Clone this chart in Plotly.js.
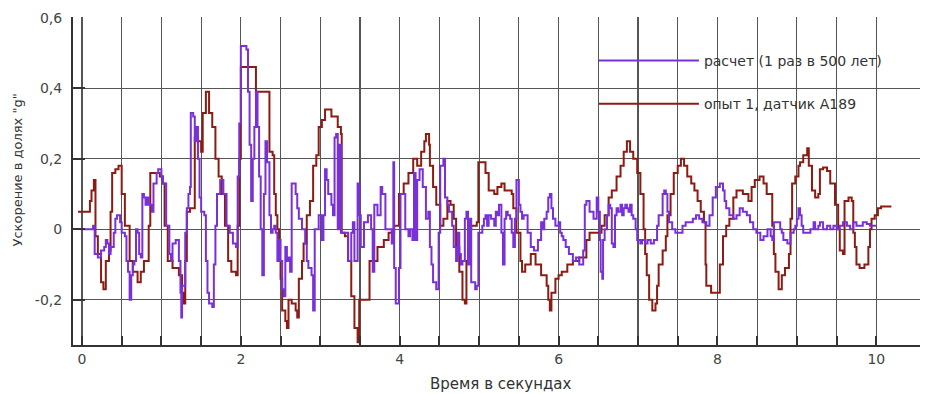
<!DOCTYPE html>
<html>
<head>
<meta charset="utf-8">
<script src="https://cdn.plot.ly/plotly-3.0.1.min.js"></script>
<style>html,body{margin:0;padding:0;background:#fff;}#chart{width:925px;height:394px;}</style>
</head>
<body>
<div id="chart"></div>
<script>
// ---- Data ----
const seriesNames = ["расчет (1 раз в 500 лет)", "опыт 1, датчик А189"];

// расчет (calculation)
const calcT = [-0.02,0.12,0.14,0.16,0.20,0.24,0.28,0.30,0.32,0.34,0.36,0.40,0.42,0.44,0.48,0.50,0.54,0.56,0.58,0.60,0.62,0.64,0.66,0.68,0.70,0.72,0.74,0.76,0.78,0.80,0.82,0.84,0.88,0.90,0.94,0.96,1.00,1.02,1.06,1.10,1.12,1.14,1.18,1.22,1.24,1.25,1.26,1.30,1.32,1.34,1.36,1.37,1.40,1.42,1.44,1.46,1.48,1.50,1.54,1.56,1.58,1.60,1.64,1.66,1.68,1.70,1.74,1.78,1.82,1.86,1.90,1.94,1.96,1.98,2.00,2.07,2.09,2.11,2.13,2.15,2.17,2.19,2.21,2.23,2.25,2.27,2.29,2.31,2.33,2.36,2.38,2.40,2.42,2.44,2.46,2.48,2.50,2.52,2.54,2.56,2.58,2.60,2.62,2.64,2.66,2.69,2.71,2.73,2.77,2.81,2.83,2.85,2.89,2.91,2.93,2.98,3.02,3.04,3.06,3.08,3.10,3.14,3.16,3.18,3.20,3.22,3.24,3.26,3.31,3.35,3.39,3.41,3.43,3.47,3.49,3.51,3.55,3.60,3.64,3.66,3.68,3.72,3.76,3.78,3.82,3.86,3.90,3.92,3.93,3.95,3.97,3.99,4.01,4.05,4.07,4.11,4.13,4.16,4.18,4.20,4.22,4.25,4.29,4.33,4.36,4.38,4.40,4.42,4.46,4.49,4.51,4.55,4.57,4.60,4.62,4.66,4.68,4.71,4.73,4.75,4.77,4.79,4.82,4.84,4.86,4.88,4.90,4.95,4.97,4.99,5.04,5.06,5.08,5.10,5.12,5.15,5.19,5.21,5.23,5.25,5.28,5.30,5.32,5.34,5.36,5.39,5.41,5.43,5.45,5.47,5.50,5.52,5.54,5.56,5.61,5.65,5.69,5.74,5.78,5.80,5.82,5.85,5.87,5.89,5.91,5.93,5.96,6.00,6.02,6.04,6.06,6.09,6.13,6.18,6.22,6.26,6.31,6.33,6.35,6.39,6.44,6.48,6.50,6.52,6.53,6.55,6.56,6.58,6.61,6.63,6.65,6.67,6.69,6.71,6.73,6.75,6.78,6.80,6.82,6.84,6.86,6.88,6.90,6.92,6.94,6.97,6.99,7.03,7.05,7.09,7.12,7.16,7.20,7.24,7.26,7.31,7.33,7.35,7.37,7.39,7.43,7.47,7.52,7.56,7.60,7.64,7.69,7.73,7.77,7.81,7.86,7.90,7.94,7.98,8.03,8.07,8.09,8.11,8.15,8.20,8.24,8.28,8.32,8.37,8.41,8.45,8.49,8.54,8.58,8.63,8.67,8.69,8.71,8.75,8.79,8.81,8.83,8.88,8.92,8.96,8.98,9.00,9.02,9.04,9.06,9.08,9.13,9.17,9.21,9.23,9.27,9.29,9.33,9.38,9.42,9.46,9.50,9.54,9.58,9.63,9.67,9.71,9.75,9.79,9.83,9.88,9.92,9.96,10.00];
const calcG = [0.00,0.00,0.01,-0.07,-0.08,-0.06,-0.05,-0.03,-0.04,-0.07,-0.05,-0.01,0.03,0.04,0.02,-0.01,-0.02,-0.09,-0.12,-0.20,-0.13,-0.10,-0.09,0.00,-0.01,-0.07,-0.08,0.10,0.09,0.07,0.09,0.07,0.05,0.13,0.16,0.17,0.15,0.13,0.01,-0.07,-0.09,-0.04,-0.03,-0.09,-0.18,-0.25,-0.16,-0.01,0.06,0.10,0.12,0.33,0.32,0.25,0.29,0.20,0.09,0.05,0.04,-0.09,-0.18,-0.21,-0.22,-0.10,0.01,0.10,0.14,0.10,0.01,-0.01,-0.04,-0.05,0.15,0.30,0.52,0.51,0.39,0.24,0.08,0.20,0.29,0.39,0.29,0.15,0.00,-0.13,0.10,0.25,0.19,0.04,-0.01,0.00,0.01,-0.01,-0.09,-0.03,-0.09,-0.17,-0.19,-0.05,-0.09,-0.08,-0.12,0.13,0.13,0.10,0.06,0.03,0.00,-0.04,-0.09,-0.11,-0.13,-0.23,0.00,0.04,-0.03,0.04,0.17,0.14,0.10,0.07,0.04,0.26,0.27,0.00,0.24,-0.01,-0.01,-0.09,-0.01,0.02,-0.09,0.13,0.04,-0.05,0.02,0.04,0.00,-0.12,0.07,0.04,0.12,0.10,0.00,0.00,-0.04,0.19,-0.11,-0.21,-0.21,-0.11,0.10,0.10,0.00,-0.02,0.00,-0.03,0.16,-0.03,0.14,0.17,0.12,0.03,0.05,-0.05,-0.10,-0.15,-0.17,-0.01,0.18,0.20,0.09,0.07,0.05,0.01,-0.05,-0.09,-0.01,-0.07,-0.10,-0.09,0.03,0.05,-0.10,0.03,-0.15,-0.17,-0.16,-0.01,0.01,0.03,0.04,0.01,0.04,0.03,0.01,0.05,0.04,0.07,-0.01,-0.10,0.03,0.05,0.04,0.03,-0.01,-0.05,0.03,0.14,0.07,0.05,0.03,0.04,-0.01,-0.05,-0.06,-0.03,0.02,0.00,0.03,0.05,0.09,0.10,0.06,0.03,0.01,0.02,-0.01,-0.02,-0.03,-0.05,-0.07,-0.09,-0.08,-0.10,-0.06,0.07,0.08,0.05,0.03,0.09,0.05,-0.03,-0.12,-0.14,-0.03,0.00,0.04,0.07,0.06,-0.04,-0.05,0.04,0.06,0.05,0.07,0.04,0.06,0.07,0.06,0.05,0.07,0.04,0.03,0.00,-0.03,-0.04,-0.03,-0.04,-0.03,-0.04,-0.03,0.01,0.04,0.10,0.11,0.10,0.05,0.02,0.00,-0.01,-0.01,0.01,0.02,0.02,0.03,0.04,0.03,0.02,0.01,0.04,0.09,0.12,0.13,0.11,0.08,0.06,0.04,0.03,0.04,0.06,0.05,0.04,0.02,0.00,-0.01,-0.03,-0.02,0.00,-0.02,-0.03,0.02,0.02,0.00,-0.01,-0.03,-0.04,-0.01,0.00,0.01,0.03,0.06,0.04,0.01,-0.01,-0.01,0.00,0.02,0.00,0.01,0.02,0.00,0.01,0.00,0.01,0.00,0.01,0.02,0.01,0.00,0.02,0.01,0.01,0.02,0.015,0.01,0.01,0.01];

// опыт 1, датчик А189 (experiment)
const expT = [-0.05,0.10,0.12,0.15,0.17,0.20,0.24,0.27,0.30,0.34,0.36,0.38,0.42,0.46,0.50,0.54,0.60,0.64,0.70,0.74,0.78,0.84,0.86,0.92,0.98,1.02,1.04,1.08,1.14,1.22,1.26,1.28,1.30,1.32,1.36,1.42,1.46,1.50,1.52,1.56,1.60,1.64,1.68,1.72,1.76,1.80,1.84,1.88,1.94,1.96,1.98,2.00,2.17,2.19,2.33,2.36,2.40,2.42,2.44,2.46,2.48,2.50,2.52,2.56,2.58,2.60,2.64,2.69,2.71,2.73,2.77,2.79,2.83,2.87,2.91,2.95,2.98,3.02,3.06,3.10,3.14,3.22,3.26,3.27,3.31,3.35,3.39,3.43,3.47,3.49,3.57,3.62,3.68,3.72,3.80,3.86,3.93,3.99,4.05,4.11,4.17,4.22,4.27,4.31,4.33,4.37,4.38,4.42,4.46,4.51,4.55,4.60,4.64,4.68,4.71,4.75,4.79,4.82,4.84,4.86,4.90,4.97,4.99,5.04,5.08,5.12,5.19,5.23,5.28,5.32,5.36,5.41,5.43,5.47,5.52,5.54,5.58,5.65,5.71,5.78,5.85,5.87,5.89,5.91,5.96,6.00,6.04,6.11,6.18,6.26,6.35,6.39,6.48,6.54,6.58,6.63,6.67,6.73,6.78,6.82,6.86,6.90,6.94,6.99,7.03,7.07,7.09,7.11,7.14,7.18,7.22,7.24,7.26,7.31,7.35,7.37,7.41,7.45,7.50,7.54,7.58,7.62,7.67,7.71,7.75,7.79,7.83,7.85,7.86,7.92,8.00,8.03,8.07,8.11,8.15,8.20,8.24,8.32,8.39,8.43,8.47,8.53,8.58,8.62,8.67,8.69,8.71,8.73,8.77,8.81,8.85,8.90,8.92,8.94,8.98,9.02,9.04,9.08,9.13,9.15,9.19,9.23,9.27,9.29,9.33,9.38,9.42,9.48,9.52,9.54,9.58,9.60,9.65,9.69,9.71,9.73,9.75,9.79,9.85,9.90,9.92,9.94,9.98,10.02,10.06,10.19];
const expG = [0.05,0.08,0.11,0.14,-0.02,-0.07,-0.15,-0.17,-0.09,-0.06,0.05,0.16,0.17,0.18,0.10,0.01,-0.09,-0.12,-0.15,-0.12,-0.09,0.01,0.16,0.16,0.15,0.13,0.01,-0.09,-0.11,-0.13,-0.18,-0.21,-0.09,0.05,0.06,0.26,0.25,0.22,0.33,0.39,0.33,0.29,0.20,0.15,0.10,0.01,-0.09,-0.12,-0.13,0.01,0.20,0.46,0.46,0.39,0.39,0.22,0.21,0.10,0.04,0.00,-0.09,-0.14,-0.23,-0.26,-0.28,-0.20,-0.21,-0.23,-0.25,-0.14,-0.09,-0.04,0.04,0.08,0.18,0.21,0.29,0.31,0.34,0.34,0.32,0.29,0.27,-0.01,-0.02,-0.09,-0.19,-0.28,-0.32,-0.20,-0.20,-0.09,-0.09,-0.05,-0.03,-0.01,0.01,0.10,0.13,0.16,0.20,0.18,0.22,0.25,0.27,0.24,0.18,0.12,0.07,0.01,0.03,0.08,0.07,0.03,-0.05,-0.12,-0.20,-0.21,-0.09,0.00,0.01,0.02,0.19,0.19,0.16,0.11,0.10,0.12,0.13,0.11,0.11,0.10,0.06,-0.01,-0.09,-0.12,-0.10,-0.07,-0.10,-0.13,-0.16,-0.20,-0.23,-0.18,-0.14,-0.13,-0.12,-0.10,-0.09,-0.08,-0.03,-0.01,-0.01,0.01,0.04,0.09,0.11,0.15,0.18,0.22,0.25,0.22,0.20,0.16,0.10,0.00,-0.07,-0.13,-0.20,-0.23,-0.21,-0.16,-0.10,-0.06,-0.02,0.04,0.10,0.16,0.18,0.20,0.18,0.15,0.13,0.11,0.08,0.05,0.02,-0.10,-0.16,-0.18,-0.18,-0.10,-0.02,0.01,0.03,0.09,0.11,0.10,0.08,0.12,0.14,0.15,0.13,0.10,0.10,0.01,-0.07,-0.12,-0.17,-0.13,-0.11,-0.07,0.03,0.13,0.15,0.18,0.19,0.21,0.23,0.18,0.11,0.09,0.10,0.17,0.175,0.165,0.13,0.07,0.00,-0.06,-0.07,0.08,0.09,0.08,-0.01,-0.05,-0.10,-0.11,-0.10,-0.05,0.00,0.03,0.04,0.06,0.065,0.065];

// Axis ticks and labels
const xTickVals = [0,0.5,1,1.5,2,2.5,3,3.5,4,4.5,5,5.5,6,6.5,7,7.5,8,8.5,9,9.5,10];
const xTickText = ["0","","","","2","","","","4","","","","6","","","","8","","","","10"];
const yTickVals = [-0.2,0,0.2,0.4,0.6];
const yTickText = ["-0,2","0","0,2","0,4","0,6"];
const xTitle = "Время в секундах";
const yTitle = "Ускорение в долях \"g\"";

// ---- Chart ----
const FONT = "DejaVu Sans, Liberation Sans, Arial, sans-serif";
const traces = [
  {x: expT, y: expG, name: seriesNames[1], type: "scatter", mode: "lines",
   line: {color: "#8a1c14", width: 2, shape: "hv"}, legendgroup: "b", legendrank: 2},
  {x: calcT, y: calcG, name: seriesNames[0], type: "scatter", mode: "lines",
   line: {color: "#7a30d8", width: 2, shape: "hv"}, legendgroup: "a", legendrank: 1}
];

const layout = {
  width: 925, height: 394,
  margin: {l: 73, r: 5, t: 17, b: 49},
  paper_bgcolor: "#ffffff", plot_bgcolor: "#ffffff",
  font: {family: FONT, size: 14, color: "#333"},
  showlegend: true,
  legend: {
    x: 0.615, y: 0.915, xanchor: "left", yanchor: "top",
    bgcolor: "rgba(0,0,0,0)", borderwidth: 0,
    itemwidth: 100, traceorder: "grouped", tracegroupgap: 22,
    font: {family: FONT, size: 14, color: "#333"}
  },
  xaxis: {
    range: [-0.113, 10.55], tickmode: "array", tickvals: xTickVals, ticktext: xTickText,
    showgrid: true, gridcolor: "#555", gridwidth: 1.2, zeroline: false,
    showline: true, linecolor: "#333", linewidth: 2,
    ticks: "inside", ticklen: 9, tickwidth: 2, tickcolor: "#333",
    tickfont: {family: FONT, size: 14, color: "#444"}, fixedrange: true
  },
  yaxis: {
    range: [-0.328, 0.602], tickmode: "array", tickvals: yTickVals, ticktext: yTickText,
    showgrid: true, gridcolor: "#555", gridwidth: 1.2, zeroline: false,
    showline: true, linecolor: "#333", linewidth: 2,
    ticks: "inside", ticklen: 12, tickwidth: 2, tickcolor: "#333",
    ticklabelstandoff: 6,
    tickfont: {family: FONT, size: 14, color: "#444"}, fixedrange: true
  },
  annotations: [
    {text: xTitle, xref: "paper", yref: "paper", x: 0.505, y: -0.12, xanchor: "center", yanchor: "middle",
     showarrow: false, font: {family: FONT, size: 15, color: "#333"}},
    {text: yTitle, xref: "paper", yref: "paper", x: -0.065, y: 0.535, xanchor: "center", yanchor: "middle",
     textangle: -90, showarrow: false, font: {family: FONT, size: 13, color: "#333"}}
  ]
};

Plotly.newPlot("chart", traces, layout, {displayModeBar: false, staticPlot: true});
</script>
</body>
</html>
